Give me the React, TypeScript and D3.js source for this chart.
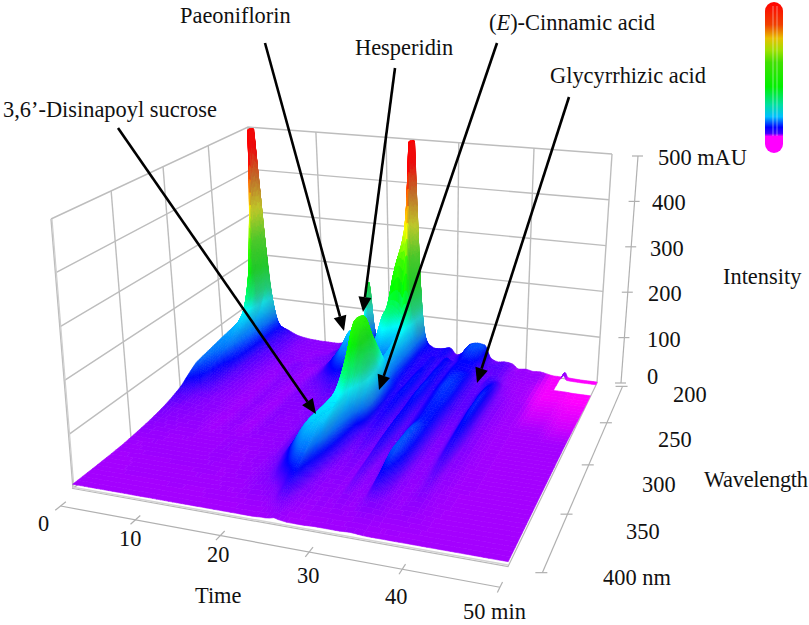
import React, { useMemo } from 'react';
import { scaleLinear, bisectRight, rgb, interpolateRgb } from 'd3';

const W = 809;
const H = 625;

// minutes
const timeKnots = [
  0, 0.5, 1, 1.5, 2, 3, 4, 6, 8, 10,
  12, 14, 16, 17, 17.5, 18, 18.5, 19, 20, 21,
  22, 23, 23.5, 24, 24.5, 25, 25.5, 26, 27, 28,
  29, 30, 31, 32, 33, 34, 35, 36, 37, 38,
  39, 40, 41, 42, 44, 45, 45.5, 46, 48, 50,
];

// nm
const wavelengthKnots = [200, 205, 210, 215, 220, 230, 240, 250, 260, 270, 280, 290, 300, 320, 340, 360, 380, 400];

// mAU, one row per wavelength, one value per time knot
const intensityRows = [
  [60, 160, 300, 200, 90, 36, 30, 18, 14, 13, 13, 24, 30, 32, 50, 40, 36, 36, 40, 50, 70, 110, 200, 320, 210, 90, 48, 36, 30, 32, 36, 22, 30, 50, 54, 52, 24, 18, 20, 18, 8, 10, 7, 8, 3, 3, 14, 3, 2, 2],
  [180, 420, 620, 420, 180, 55, 38, 22, 16, 15, 15, 26, 32, 40, 170, 75, 42, 40, 46, 70, 120, 250, 420, 620, 400, 180, 70, 44, 36, 36, 40, 26, 32, 52, 58, 56, 28, 22, 24, 20, 10, 12, 9, 10, 3, 3, 12, 3, 2, 2],
  [130, 280, 420, 300, 130, 50, 36, 22, 16, 15, 15, 24, 32, 38, 130, 65, 46, 42, 55, 110, 220, 280, 340, 470, 340, 160, 65, 44, 38, 36, 40, 28, 34, 50, 54, 50, 30, 24, 26, 20, 12, 12, 10, 10, 3, 3, 3, 3, 2, 2],
  [100, 190, 280, 200, 100, 50, 34, 22, 15, 14, 14, 24, 34, 40, 70, 50, 44, 44, 60, 115, 205, 245, 240, 290, 230, 120, 60, 42, 36, 34, 38, 28, 32, 46, 50, 46, 32, 26, 26, 20, 12, 11, 10, 9, 3, 3, 3, 3, 2, 2],
  [85, 130, 180, 140, 85, 50, 32, 22, 15, 14, 15, 28, 48, 54, 54, 48, 46, 50, 68, 125, 145, 135, 125, 135, 125, 90, 58, 40, 34, 40, 32, 42, 32, 42, 44, 40, 28, 22, 24, 20, 12, 11, 9, 8, 3, 3, 3, 3, 2, 2],
  [78, 90, 105, 96, 72, 50, 32, 22, 17, 13, 19, 22, 62, 92, 92, 80, 64, 58, 62, 92, 110, 92, 88, 100, 105, 85, 60, 42, 34, 40, 32, 42, 34, 42, 40, 38, 28, 22, 28, 24, 14, 11, 9, 8, 3, 3, 3, 3, 2, 2],
  [75, 80, 84, 78, 64, 48, 30, 20, 14, 18, 13, 22, 55, 72, 72, 62, 54, 50, 50, 62, 74, 70, 76, 92, 95, 78, 58, 42, 34, 42, 32, 44, 34, 44, 46, 44, 30, 24, 32, 34, 18, 12, 9, 8, 4, 4, 4, 4, 3, 3],
  [72, 72, 72, 68, 58, 44, 28, 19, 13, 18, 12, 20, 42, 52, 54, 48, 44, 42, 42, 46, 56, 62, 70, 85, 85, 74, 58, 44, 34, 44, 32, 44, 34, 44, 50, 46, 30, 24, 30, 42, 20, 14, 10, 9, 5, 5, 5, 5, 4, 4],
  [68, 66, 64, 60, 52, 40, 26, 18, 12, 17, 12, 20, 30, 36, 38, 36, 34, 32, 32, 36, 44, 56, 68, 82, 85, 78, 62, 46, 34, 44, 32, 46, 34, 44, 52, 48, 30, 24, 32, 46, 22, 15, 11, 9, 6, 6, 6, 6, 5, 5],
  [64, 60, 56, 52, 44, 34, 24, 17, 11, 16, 11, 18, 22, 26, 28, 27, 26, 26, 26, 30, 42, 66, 92, 118, 125, 108, 80, 56, 36, 44, 32, 46, 32, 42, 50, 48, 30, 24, 30, 48, 22, 15, 11, 9, 7, 7, 7, 7, 6, 6],
  [60, 54, 50, 46, 38, 30, 22, 16, 11, 15, 11, 17, 18, 20, 22, 22, 22, 22, 22, 28, 44, 82, 125, 160, 170, 150, 110, 70, 36, 42, 30, 44, 30, 40, 48, 46, 30, 22, 30, 48, 22, 15, 11, 9, 8, 8, 8, 8, 7, 7],
  [48, 44, 40, 38, 32, 26, 20, 15, 10, 15, 10, 16, 16, 18, 18, 20, 20, 20, 22, 30, 48, 95, 150, 200, 218, 200, 150, 92, 36, 40, 28, 42, 28, 38, 46, 44, 28, 20, 28, 46, 22, 14, 10, 9, 8, 8, 8, 8, 8, 8],
  [34, 30, 28, 26, 22, 20, 17, 14, 10, 14, 10, 16, 14, 16, 16, 18, 20, 22, 26, 36, 56, 100, 150, 195, 225, 210, 160, 100, 34, 36, 26, 42, 26, 36, 46, 44, 26, 18, 26, 44, 22, 14, 10, 9, 8, 8, 8, 8, 8, 8],
  [20, 19, 18, 17, 16, 15, 14, 13, 9, 13, 9, 14, 13, 14, 14, 16, 18, 22, 30, 46, 68, 92, 102, 105, 110, 85, 58, 38, 24, 28, 22, 38, 24, 34, 56, 46, 24, 16, 22, 36, 18, 14, 10, 9, 8, 8, 8, 8, 8, 8],
  [13, 13, 13, 12, 12, 12, 11, 11, 10, 10, 12, 11, 12, 13, 13, 14, 16, 20, 28, 50, 76, 92, 94, 92, 88, 60, 40, 28, 18, 20, 16, 30, 18, 28, 58, 44, 20, 14, 18, 26, 14, 12, 9, 9, 8, 8, 8, 8, 8, 8],
  [9, 9, 9, 9, 9, 10, 10, 10, 10, 10, 11, 10, 11, 12, 12, 13, 14, 16, 20, 30, 46, 60, 62, 62, 46, 34, 24, 18, 14, 15, 13, 22, 14, 18, 40, 28, 16, 12, 14, 18, 12, 10, 9, 8, 8, 8, 8, 8, 8, 8],
  [8, 8, 8, 8, 8, 8, 9, 9, 9, 9, 9, 9, 10, 10, 10, 10, 11, 12, 13, 14, 16, 22, 28, 30, 26, 20, 15, 14, 11, 13, 11, 14, 11, 13, 16, 15, 13, 11, 12, 11, 10, 9, 8, 8, 8, 8, 8, 8, 8, 8],
  [8, 8, 8, 8, 8, 8, 8, 8, 8, 8, 8, 8, 8, 8, 8, 8, 8, 8, 8, 8, 8, 9, 9, 10, 12, 10, 9, 8, 8, 8, 9, 9, 9, 9, 10, 9, 8, 8, 8, 8, 8, 8, 8, 8, 8, 8, 8, 8, 8, 8],
];

// part of the scan that has no data (white notch at the far right)
const gapTimes = [45, 50];
const gapWavelengths = [204, 220];

const timeTicks = [0, 10, 20, 30, 40, 50];
const wavelengthTicks = [200, 250, 300, 350, 400];
const intensityTicks = [0, 100, 200, 300, 400, 500];

const colorDomain = [2, 5, 8, 18, 30, 42, 62, 85, 105, 130, 180, 240, 310, 370, 440];
const colorRange = ['#ff00ff', '#d800ff', '#a400ff', '#8000ff', '#4000ff', '#0000ff', '#0070ff', '#00c0ff', '#00ffff', '#00ff80', '#00ff00', '#40ff00', '#ffff00', '#ff8000', '#ff0000'];

const legendOffsets = [0, 0.15, 0.24, 0.32, 0.4, 0.56, 0.68, 0.76, 0.83, 0.87, 0.89];
const legendColors = ['#ff0000', '#f04000', '#e8c000', '#a0e000', '#40e000', '#00f000', '#00e0a0', '#00c0ff', '#0000ff', '#4000ff', '#ff00ff'];

const callouts = [
  { from: [265, 43], to: [344, 331] },
  { from: [395, 68], to: [363, 312] },
  { from: [497, 43], to: [379, 390] },
  { from: [569, 97], to: [477, 383] },
  { from: [118, 128], to: [316, 414] },
];

const SERIF = '"Liberation Serif", serif';

const timeScale = scaleLinear().domain([0, 50]).range([0, 1]);
const wlScale = scaleLinear().domain([200, 400]).range([0, 1]);
const zScale = scaleLinear().domain([0, 500]).range([0, 1]);
const colorScale = scaleLinear<string>().domain(colorDomain).range(colorRange).interpolate(interpolateRgb).clamp(true);
const axisX = scaleLinear().domain([0, 500]).range([621, 638]);
const axisY = scaleLinear().domain([0, 500]).range([383, 156]);

function squareToQuad(q: number[][]) {
  const [[x0, y0], [x1, y1], [x2, y2], [x3, y3]] = q;
  const dx1 = x1 - x2, dx2 = x3 - x2, sx = x0 - x1 + x2 - x3;
  const dy1 = y1 - y2, dy2 = y3 - y2, sy = y0 - y1 + y2 - y3;
  const det = dx1 * dy2 - dx2 * dy1;
  const g = (sx * dy2 - dx2 * sy) / det;
  const h = (dx1 * sy - sx * dy1) / det;
  const a = x1 - x0 + g * x1, b = x3 - x0 + h * x3;
  const d = y1 - y0 + g * y1, e = y3 - y0 + h * y3;
  return (u: number, v: number) => {
    const w = 1 + g * u + h * v;
    return [(a * u + b * v + x0) / w, (d * u + e * v + y0) / w];
  };
}

// back-left, back-right, front-right, front-left
const floorAt = squareToQuad([[263, 339], [597, 383], [508, 566.5], [73, 488.5]]);
const topAt = squareToQuad([[248, 127], [612, 154], [521, 267], [51, 219]]);

function project(t: number, wl: number, z: number) {
  const u = timeScale(t), v = wlScale(wl), k = zScale(z);
  const a = floorAt(u, v), b = topAt(u, v);
  return [a[0] + (b[0] - a[0]) * k, a[1] + (b[1] - a[1]) * k];
}

// monotone tangents so the peaks do not overshoot between knots
function tangents(xs: number[], ys: ArrayLike<number>) {
  const n = xs.length;
  const m = new Float64Array(n);
  for (let i = 1; i < n - 1; i++) {
    const d0 = (ys[i] - ys[i - 1]) / (xs[i] - xs[i - 1]);
    const d1 = (ys[i + 1] - ys[i]) / (xs[i + 1] - xs[i]);
    m[i] = d0 * d1 <= 0 ? 0 : (2 * d0 * d1) / (d0 + d1);
  }
  return m;
}

function hermite(xs: number[], ys: ArrayLike<number>, m: ArrayLike<number>, x: number) {
  const i = Math.min(xs.length - 2, Math.max(0, bisectRight(xs, x) - 1));
  const h = xs[i + 1] - xs[i];
  const s = (x - xs[i]) / h;
  const s2 = s * s, s3 = s2 * s;
  return (2 * s3 - 3 * s2 + 1) * ys[i] + (s3 - 2 * s2 + s) * h * m[i] + (-2 * s3 + 3 * s2) * ys[i + 1] + (s3 - s2) * h * m[i + 1];
}

const T_PER_MIN = 32;
const NT = 50 * T_PER_MIN + 1;
const NW = 201;

function resample() {
  const byRow = intensityRows.map((row) => {
    const m = tangents(timeKnots, row);
    const out = new Float64Array(NT);
    for (let i = 0; i < NT; i++) out[i] = hermite(timeKnots, row, m, i / T_PER_MIN);
    return out;
  });
  const grid = new Float32Array(NT * NW);
  const col = new Float64Array(wavelengthKnots.length);
  for (let i = 0; i < NT; i++) {
    for (let r = 0; r < col.length; r++) col[r] = byRow[r][i];
    const m = tangents(wavelengthKnots, col);
    for (let j = 0; j < NW; j++) {
      const z = hermite(wavelengthKnots, col, m, 200 + j);
      grid[j * NT + i] = Math.max(0, Math.min(500, z));
    }
  }
  return grid;
}

const grey = rgb('#5a6a70');

function buildSurface() {
  const grid = resample();
  const Z = (i: number, j: number) => grid[j * NT + i];
  const batches: { fill: string; d: string }[] = [];
  let curFill = '';
  let parts: string[] = [];

  const leaf = (i0: number, i1: number, j0: number, j1: number) => {
    const t0 = i0 / T_PER_MIN, t1 = i1 / T_PER_MIN;
    const w0 = 200 + j0, w1 = 200 + j1;
    const tc = (t0 + t1) / 2, wc = (w0 + w1) / 2;
    if (tc > gapTimes[0] && tc < gapTimes[1] && wc > gapWavelengths[0] && wc < gapWavelengths[1]) return;
    const z00 = Z(i0, j0), z10 = Z(i1, j0), z11 = Z(i1, j1), z01 = Z(i0, j1);
    const z = (z00 + z10 + z11 + z01) / 4;
    const slope = ((z10 + z11) - (z00 + z01)) / 2 / (t1 - t0);
    // right flanks fall into shade, the clipped red tips stay bright
    const tip = Math.max(0.25, Math.min(1, (480 - z) / 100));
    const dim = Math.min(0.38, Math.max(0, -slope / 400)) * Math.min(1, z / 70) * tip;
    const c = rgb(colorScale(z));
    const q = (x: number, g: number) => Math.min(255, Math.round((x + (g - x) * dim) / 4) * 4);
    const fill = `rgb(${q(c.r, grey.r)},${q(c.g, grey.g)},${q(c.b, grey.b)})`;
    const a = project(t0, w0, z00), b = project(t1, w0, z10), e = project(t1, w1, z11), f = project(t0, w1, z01);
    const d = `M${a[0].toFixed(1)} ${a[1].toFixed(1)}L${b[0].toFixed(1)} ${b[1].toFixed(1)}L${e[0].toFixed(1)} ${e[1].toFixed(1)}L${f[0].toFixed(1)} ${f[1].toFixed(1)}Z`;
    if (fill !== curFill) {
      if (parts.length) batches.push({ fill: curFill, d: parts.join('') });
      parts = [];
      curFill = fill;
    }
    parts.push(d);
  };

  const split = (i0: number, i1: number, j0: number, j1: number) => {
    let lo = Infinity, hi = -Infinity;
    for (let j = j0; j <= j1; j++) {
      for (let i = i0; i <= i1; i++) {
        const v = Z(i, j);
        if (v < lo) lo = v;
        if (v > hi) hi = v;
      }
    }
    const canT = i1 - i0 > 1, canW = j1 - j0 > 1;
    if (hi - lo < 4 || (!canT && !canW)) {
      leaf(i0, i1, j0, j1);
      return;
    }
    const is = canT ? [i0, (i0 + i1) >> 1, i1] : [i0, i1];
    const js = canW ? [j0, (j0 + j1) >> 1, j1] : [j0, j1];
    for (let b = 0; b < js.length - 1; b++) {
      for (let a = 0; a < is.length - 1; a++) split(is[a], is[a + 1], js[b], js[b + 1]);
    }
  };

  // far rows first, left to right: the camera sits in front and to the right
  for (let j = 0; j < NW - 1; j += 4) {
    for (let i = 0; i < NT - 1; i += 16) split(i, i + 16, j, j + 4);
  }
  if (parts.length) batches.push({ fill: curFill, d: parts.join('') });
  return batches;
}

const pts = (list: number[][]) => list.map((p) => p.join(',')).join(' ');

function Arrow({ from, to }: { from: number[]; to: number[] }) {
  const dx = to[0] - from[0], dy = to[1] - from[1];
  const len = Math.hypot(dx, dy);
  const ux = dx / len, uy = dy / len;
  const bx = to[0] - ux * 15, by = to[1] - uy * 15;
  return (
    <g>
      <line x1={from[0]} y1={from[1]} x2={bx} y2={by} stroke="#000" strokeWidth={2.6} />
      <polygon points={pts([to, [bx - uy * 6.5, by + ux * 6.5], [bx + uy * 6.5, by - ux * 6.5]])} fill="#000" />
    </g>
  );
}

export default function App() {
  const surface = useMemo(buildSurface, []);
  const gridColor = '#bdbdbd';

  return (
    <svg width={W} height={H} viewBox={`0 0 ${W} ${H}`} style={{ position: 'absolute', left: 0, top: 0, background: '#fff' }} fontFamily={SERIF} fontSize={22.4} fill="#111">
      <defs>
        <linearGradient id="legendGrad" x1="0" x2="0" y1="0" y2="1">
          {legendOffsets.map((o, i) => (
            <stop key={i} offset={o} stopColor={legendColors[i]} />
          ))}
        </linearGradient>
      </defs>

      {/* walls */}
      <g fill="none" stroke={gridColor} strokeWidth={1.4}>
        {intensityTicks.map((z) => (
          <polyline key={z} points={pts([project(0, 400, z), project(0, 200, z), project(50, 200, z)])} />
        ))}
        {timeTicks.map((t) => (
          <line key={t} x1={project(t, 200, 0)[0]} y1={project(t, 200, 0)[1]} x2={project(t, 200, 500)[0]} y2={project(t, 200, 500)[1]} />
        ))}
        {wavelengthTicks.map((w) => (
          <line key={w} x1={project(0, w, 0)[0]} y1={project(0, w, 0)[1]} x2={project(0, w, 500)[0]} y2={project(0, w, 500)[1]} />
        ))}
        <line x1={project(0, 400, 0)[0] + 1} y1={project(0, 400, 0)[1]} x2={project(0, 400, 500)[0] + 1} y2={project(0, 400, 500)[1]} strokeWidth={1.2} stroke="#cfcfcf" />
      </g>

      {/* floor */}
      <polygon points={pts([project(0, 200, 0), project(50, 200, 0), project(50, 400, 0), project(0, 400, 0)])} fill="#fff" stroke="#b8b8b8" strokeWidth={1.2} />
      <line x1={project(0, 400, 2.5)[0]} y1={project(0, 400, 2.5)[1]} x2={project(50, 400, 2.5)[0]} y2={project(50, 400, 2.5)[1]} stroke="#d4d4d4" strokeWidth={1.5} />

      {/* surface */}
      <g strokeWidth={0.6} strokeLinejoin="round">
        {surface.map((b, i) => (
          <path key={i} d={b.d} fill={b.fill} stroke={b.fill} />
        ))}
      </g>

      {/* axes */}
      <g fill="none" stroke="#b0b0b0" strokeWidth={1.2}>
        <line x1={project(0.8, 416, 0)[0] + 2} y1={project(0.8, 416, 0)[1]} x2={project(50, 416, 0)[0] + 2} y2={project(50, 416, 0)[1]} />
        {timeTicks.map((t) => {
          const tt = Math.max(t, 0.8);
          const a = project(tt, 412, 0), b = project(tt, 420, 0);
          return <line key={t} x1={a[0] + 2} y1={a[1]} x2={b[0] + 2} y2={b[1]} />;
        })}
        <line x1={project(53.5, 200, 0)[0]} y1={project(53.5, 200, 0)[1]} x2={project(53.5, 400, 0)[0]} y2={project(53.5, 400, 0)[1]} />
        {wavelengthTicks.map((w) => {
          const p = project(53.5, w, 0);
          return <line key={w} x1={p[0] - 7} y1={p[1]} x2={p[0] + 5} y2={p[1]} />;
        })}
        <line x1={axisX(0)} y1={axisY(0)} x2={axisX(500)} y2={axisY(500)} />
        {intensityTicks.map((z) => (
          <line key={z} x1={axisX(z) - 6} y1={axisY(z)} x2={axisX(z) + 5} y2={axisY(z)} />
        ))}
      </g>

      {/* tick labels */}
      <text x={38} y={531}>0</text>
      <text x={119} y={546}>10</text>
      <text x={207} y={562}>20</text>
      <text x={297} y={583}>30</text>
      <text x={385} y={604}>40</text>
      <text x={463} y={619}>50 min</text>
      <text x={195} y={603}>Time</text>
      <text x={658} y={165}>500 mAU</text>
      <text x={652} y={210}>400</text>
      <text x={650} y={256}>300</text>
      <text x={648} y={301}>200</text>
      <text x={647} y={347}>100</text>
      <text x={647} y={384}>0</text>
      <text x={723} y={284}>Intensity</text>
      <text x={673} y={402}>200</text>
      <text x={658} y={447}>250</text>
      <text x={642} y={492}>300</text>
      <text x={626} y={539}>350</text>
      <text x={603} y={585}>400 nm</text>
      <text x={704} y={487} textLength={104}>Wavelength</text>

      {/* callouts */}
      {callouts.map((c, i) => (
        <Arrow key={i} from={c.from} to={c.to} />
      ))}
      <text x={180} y={23}>Paeoniflorin</text>
      <text x={355} y={55}>Hesperidin</text>
      <text x={489} y={30}>(<tspan fontStyle="italic">E</tspan>)-Cinnamic acid</text>
      <text x={550} y={83}>Glycyrrhizic acid</text>
      <text x={3} y={117}>3,6’-Disinapoyl sucrose</text>

      {/* color bar */}
      <rect x={765} y={2} width={18} height={151} rx={9} fill="url(#legendGrad)" />
      <line x1={773} y1={6} x2={773} y2={136} stroke="#fff" strokeOpacity={0.45} />
      <line x1={777} y1={6} x2={777} y2={136} stroke="#fff" strokeOpacity={0.45} />
    </svg>
  );
}
